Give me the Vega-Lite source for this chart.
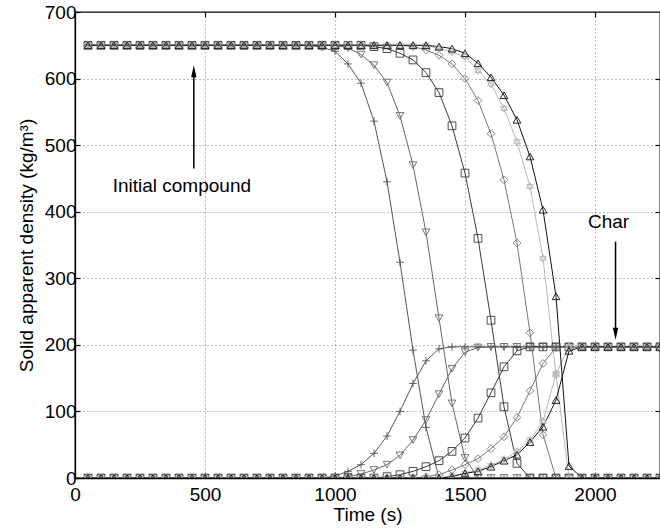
{
  "$schema": "https://vega.github.io/schema/vega-lite/v6.json",
  "width": 585,
  "height": 466,
  "autosize": {"type": "none"},
  "padding": {"left": 75, "top": 12, "right": 0, "bottom": 53},
  "background": "#ffffff",
  "config": {
    "font": "Liberation Sans",
    "view": {"stroke": "#000", "strokeWidth": 1.3},
    "axis": {"domainColor": "#000", "domainWidth": 1.3, "tickColor": "#000", "tickWidth": 1.2, "labelColor": "#000", "titleColor": "#000", "labelFontSize": 19, "titleFontSize": 19, "titleFontWeight": "normal", "labelFont": "Liberation Sans", "titleFont": "Liberation Sans"}
  },
  "datasets": {
    "d": [
      {"t":50,"pD":650,"pC":0,"vD":650,"vC":0,"sD":650,"sC":0,"dD":650,"dC":0,"hD":650,"hC":0,"tD":650,"tC":0},
      {"t":100,"pD":650,"pC":0,"vD":650,"vC":0,"sD":650,"sC":0,"dD":650,"dC":0,"hD":650,"hC":0,"tD":650,"tC":0},
      {"t":150,"pD":650,"pC":0,"vD":650,"vC":0,"sD":650,"sC":0,"dD":650,"dC":0,"hD":650,"hC":0,"tD":650,"tC":0},
      {"t":200,"pD":650,"pC":0,"vD":650,"vC":0,"sD":650,"sC":0,"dD":650,"dC":0,"hD":650,"hC":0,"tD":650,"tC":0},
      {"t":250,"pD":650,"pC":0,"vD":650,"vC":0,"sD":650,"sC":0,"dD":650,"dC":0,"hD":650,"hC":0,"tD":650,"tC":0},
      {"t":300,"pD":650,"pC":0,"vD":650,"vC":0,"sD":650,"sC":0,"dD":650,"dC":0,"hD":650,"hC":0,"tD":650,"tC":0},
      {"t":350,"pD":650,"pC":0,"vD":650,"vC":0,"sD":650,"sC":0,"dD":650,"dC":0,"hD":650,"hC":0,"tD":650,"tC":0},
      {"t":400,"pD":650,"pC":0,"vD":650,"vC":0,"sD":650,"sC":0,"dD":650,"dC":0,"hD":650,"hC":0,"tD":650,"tC":0},
      {"t":450,"pD":650,"pC":0,"vD":650,"vC":0,"sD":650,"sC":0,"dD":650,"dC":0,"hD":650,"hC":0,"tD":650,"tC":0},
      {"t":500,"pD":650,"pC":0,"vD":650,"vC":0,"sD":650,"sC":0,"dD":650,"dC":0,"hD":650,"hC":0,"tD":650,"tC":0},
      {"t":550,"pD":650,"pC":0,"vD":650,"vC":0,"sD":650,"sC":0,"dD":650,"dC":0,"hD":650,"hC":0,"tD":650,"tC":0},
      {"t":600,"pD":650,"pC":0,"vD":650,"vC":0,"sD":650,"sC":0,"dD":650,"dC":0,"hD":650,"hC":0,"tD":650,"tC":0},
      {"t":650,"pD":650,"pC":0,"vD":650,"vC":0,"sD":650,"sC":0,"dD":650,"dC":0,"hD":650,"hC":0,"tD":650,"tC":0},
      {"t":700,"pD":650,"pC":0,"vD":650,"vC":0,"sD":650,"sC":0,"dD":650,"dC":0,"hD":650,"hC":0,"tD":650,"tC":0},
      {"t":750,"pD":650,"pC":0,"vD":650,"vC":0,"sD":650,"sC":0,"dD":650,"dC":0,"hD":650,"hC":0,"tD":650,"tC":0},
      {"t":800,"pD":650,"pC":0,"vD":650,"vC":0,"sD":650,"sC":0,"dD":650,"dC":0,"hD":650,"hC":0,"tD":650,"tC":0},
      {"t":850,"pD":650,"pC":0,"vD":650,"vC":0,"sD":650,"sC":0,"dD":650,"dC":0,"hD":650,"hC":0,"tD":650,"tC":0},
      {"t":900,"pD":650,"pC":0,"vD":650,"vC":0,"sD":650,"sC":0,"dD":650,"dC":0,"hD":650,"hC":0,"tD":650,"tC":0},
      {"t":950,"pD":647,"pC":0,"vD":650,"vC":0,"sD":650,"sC":0,"dD":650,"dC":0,"hD":650,"hC":0,"tD":650,"tC":0},
      {"t":1000,"pD":641,"pC":3,"vD":650,"vC":0,"sD":650,"sC":0,"dD":650,"dC":0,"hD":650,"hC":0,"tD":650,"tC":0},
      {"t":1050,"pD":622,"pC":10,"vD":646,"vC":2,"sD":650,"sC":0,"dD":650,"dC":0,"hD":650,"hC":0,"tD":650,"tC":0},
      {"t":1100,"pD":593,"pC":20,"vD":636,"vC":6,"sD":650,"sC":0,"dD":650,"dC":0,"hD":650,"hC":0,"tD":650,"tC":0},
      {"t":1150,"pD":536,"pC":37,"vD":620,"vC":12,"sD":648,"sC":0,"dD":650,"dC":0,"hD":650,"hC":0,"tD":650,"tC":0},
      {"t":1200,"pD":445,"pC":63,"vD":594,"vC":20,"sD":645,"sC":2,"dD":650,"dC":0,"hD":650,"hC":0,"tD":650,"tC":0},
      {"t":1250,"pD":324,"pC":100,"vD":544,"vC":34,"sD":638,"sC":5,"dD":650,"dC":0,"hD":650,"hC":0,"tD":650,"tC":0},
      {"t":1300,"pD":192,"pC":142,"vD":470,"vC":57,"sD":628,"sC":10,"dD":648,"dC":0,"hD":650,"hC":0,"tD":650,"tC":0},
      {"t":1350,"pD":76,"pC":176,"vD":369,"vC":87,"sD":609,"sC":17,"dD":643,"dC":2,"hD":650,"hC":0,"tD":650,"tC":0},
      {"t":1400,"pD":0,"pC":194,"vD":240,"vC":126,"sD":579,"sC":26,"dD":635,"dC":5,"hD":645,"hC":0,"tD":648,"tC":0},
      {"t":1450,"pD":0,"pC":197,"vD":112,"vC":164,"sD":529,"sC":40,"dD":622,"dC":12,"hD":640,"hC":3,"tD":645,"tC":2},
      {"t":1500,"pD":0,"pC":197,"vD":30,"vC":189,"sD":458,"sC":60,"dD":600,"dC":20,"hD":633,"hC":7,"tD":638,"tC":7},
      {"t":1550,"pD":0,"pC":197,"vD":0,"vC":196,"sD":360,"sC":90,"dD":567,"dC":29,"hD":612,"hC":12,"tD":623,"tC":10},
      {"t":1600,"pD":0,"pC":197,"vD":0,"vC":197,"sD":237,"sC":128,"dD":517,"dC":44,"hD":592,"hC":19,"tD":602,"tC":17},
      {"t":1650,"pD":0,"pC":197,"vD":0,"vC":197,"sD":107,"sC":167,"dD":448,"dC":62,"hD":555,"hC":28,"tD":575,"tC":26},
      {"t":1700,"pD":0,"pC":197,"vD":0,"vC":197,"sD":22,"sC":191,"dD":353,"dC":91,"hD":505,"hC":40,"tD":538,"tC":35},
      {"t":1750,"pD":0,"pC":197,"vD":0,"vC":197,"sD":0,"sC":197,"dD":218,"dC":131,"hD":438,"hC":57,"tD":483,"tC":54},
      {"t":1800,"pD":0,"pC":197,"vD":0,"vC":197,"sD":0,"sC":197,"dD":65,"dC":172,"hD":330,"hC":85,"tD":403,"tC":77},
      {"t":1850,"pD":0,"pC":197,"vD":0,"vC":197,"sD":0,"sC":197,"dD":0,"dC":196,"hD":155,"hC":157,"tD":273,"tC":117},
      {"t":1900,"pD":0,"pC":197,"vD":0,"vC":197,"sD":0,"sC":197,"dD":0,"dC":197,"hD":0,"hC":197,"tD":18,"tC":191},
      {"t":1950,"pD":0,"pC":197,"vD":0,"vC":197,"sD":0,"sC":197,"dD":0,"dC":197,"hD":0,"hC":197,"tD":0,"tC":197},
      {"t":2000,"pD":0,"pC":197,"vD":0,"vC":197,"sD":0,"sC":197,"dD":0,"dC":197,"hD":0,"hC":197,"tD":0,"tC":197},
      {"t":2050,"pD":0,"pC":197,"vD":0,"vC":197,"sD":0,"sC":197,"dD":0,"dC":197,"hD":0,"hC":197,"tD":0,"tC":197},
      {"t":2100,"pD":0,"pC":197,"vD":0,"vC":197,"sD":0,"sC":197,"dD":0,"dC":197,"hD":0,"hC":197,"tD":0,"tC":197},
      {"t":2150,"pD":0,"pC":197,"vD":0,"vC":197,"sD":0,"sC":197,"dD":0,"dC":197,"hD":0,"hC":197,"tD":0,"tC":197},
      {"t":2200,"pD":0,"pC":197,"vD":0,"vC":197,"sD":0,"sC":197,"dD":0,"dC":197,"hD":0,"hC":197,"tD":0,"tC":197},
      {"t":2250,"pD":0,"pC":197,"vD":0,"vC":197,"sD":0,"sC":197,"dD":0,"dC":197,"hD":0,"hC":197,"tD":0,"tC":197}
    ],
    "txt": [
      {"x": 411, "y": 439, "label": "Initial compound"},
      {"x": 2052, "y": 385, "label": "Char"}
    ],
    "arr": [
      {"x": 457, "y": 465, "y2": 612},
      {"x": 2079, "y": 355, "y2": 215}
    ],
    "heads": [
      {"x": 457, "y": 611, "dir": "up"},
      {"x": 2079, "y": 216.5, "dir": "down"}
    ]
  },
  "resolve": {"axis": {"x": "independent", "y": "independent"}, "scale": {"shape": "independent"}},
  "layer": [
    {
      "data": {"name": "d"},
      "transform": [{"fold": ["pD","pC","vD","vC","sD","sC","dD","dC","hD","hC","tD","tC"], "as": ["k","v"]}],
      "mark": {"type": "line", "strokeWidth": 1, "clip": true},
      "encoding": {
        "x": {"field": "t", "type": "quantitative", "scale": {"domain": [0, 2250], "nice": false},
          "axis": {"values": [0,500,1000,1500,2000], "format": "d", "grid": true, "gridDash": [1,3], "gridColor": "#555", "gridWidth": 0.8, "tickSize": -5, "labelPadding": 12, "labelFlush": false, "title": "Time (s)", "titlePadding": 1}},
        "y": {"field": "v", "type": "quantitative", "scale": {"domain": [0, 700], "nice": false},
          "axis": {"values": [0,100,200,300,400,500,600,700], "format": "d", "grid": true, "gridDash": [1,3], "gridColor": "#555", "gridWidth": 0.8, "tickSize": -5, "labelPadding": 4, "labelFlush": false, "title": "Solid apparent density (kg/m³)", "titlePadding": 8}},
        "color": {"field": "k", "type": "nominal", "legend": null,
          "scale": {"domain": ["pD","pC","vD","vC","sD","sC","dD","dC","hD","hC","tD","tC"],
                    "range": ["#555555","#555555","#666666","#666666","#3a3a3a","#3a3a3a","#777777","#777777","#b8b8b8","#b8b8b8","#111111","#111111"]}}
      }
    },
    {
      "data": {"name": "d"},
      "transform": [{"fold": ["pD","pC","vD","vC","sD","sC","dD","dC","hD","hC","tD","tC"], "as": ["k","v"]}],
      "mark": {"type": "point", "filled": false, "strokeWidth": 0.9, "opacity": 1, "size": 60, "clip": true},
      "encoding": {
        "x": {"field": "t", "type": "quantitative", "axis": null},
        "y": {"field": "v", "type": "quantitative", "axis": null},
        "color": {"field": "k", "type": "nominal", "legend": null},
        "shape": {"field": "k", "type": "nominal", "legend": null,
          "scale": {"domain": ["pD","pC","vD","vC","sD","sC","dD","dC","hD","hC","tD","tC"],
                    "range": ["M-1,0L1,0M0,-1L0,1","M-1,0L1,0M0,-1L0,1","triangle-down","triangle-down","square","square","diamond","diamond","M0,-1L0.87,0.5L-0.87,0.5ZM0,1L0.87,-0.5L-0.87,-0.5Z","M0,-1L0.87,0.5L-0.87,0.5ZM0,1L0.87,-0.5L-0.87,-0.5Z","triangle-up","triangle-up"]}}
      }
    },
    {
      "data": {"name": "arr"},
      "mark": {"type": "rule", "color": "#000", "strokeWidth": 1.5},
      "encoding": {
        "x": {"field": "x", "type": "quantitative", "axis": null},
        "y": {"field": "y", "type": "quantitative", "axis": null},
        "y2": {"field": "y2"}
      }
    },
    {
      "data": {"name": "heads"},
      "mark": {"type": "point", "filled": true, "color": "#000", "opacity": 1, "size": 144},
      "encoding": {
        "x": {"field": "x", "type": "quantitative", "axis": null},
        "y": {"field": "y", "type": "quantitative", "axis": null},
        "shape": {"field": "dir", "type": "nominal", "legend": null,
          "scale": {"domain": ["up","down"], "range": ["M0,-1L0.45,1L-0.45,1Z","M0,1L0.45,-1L-0.45,-1Z"]}}
      }
    },
    {
      "data": {"name": "txt"},
      "mark": {"type": "text", "font": "Liberation Sans", "fontSize": 19, "color": "#000", "align": "center", "baseline": "middle"},
      "encoding": {
        "x": {"field": "x", "type": "quantitative",
          "axis": {"orient": "top", "values": [500,1000,1500,2000], "labels": false, "title": null, "domain": false, "grid": false, "tickSize": -5}},
        "y": {"field": "y", "type": "quantitative",
          "axis": {"orient": "right", "values": [100,200,300,400,500,600], "labels": false, "title": null, "domain": false, "grid": false, "tickSize": -5}},
        "text": {"field": "label"}
      }
    }
  ]
}
